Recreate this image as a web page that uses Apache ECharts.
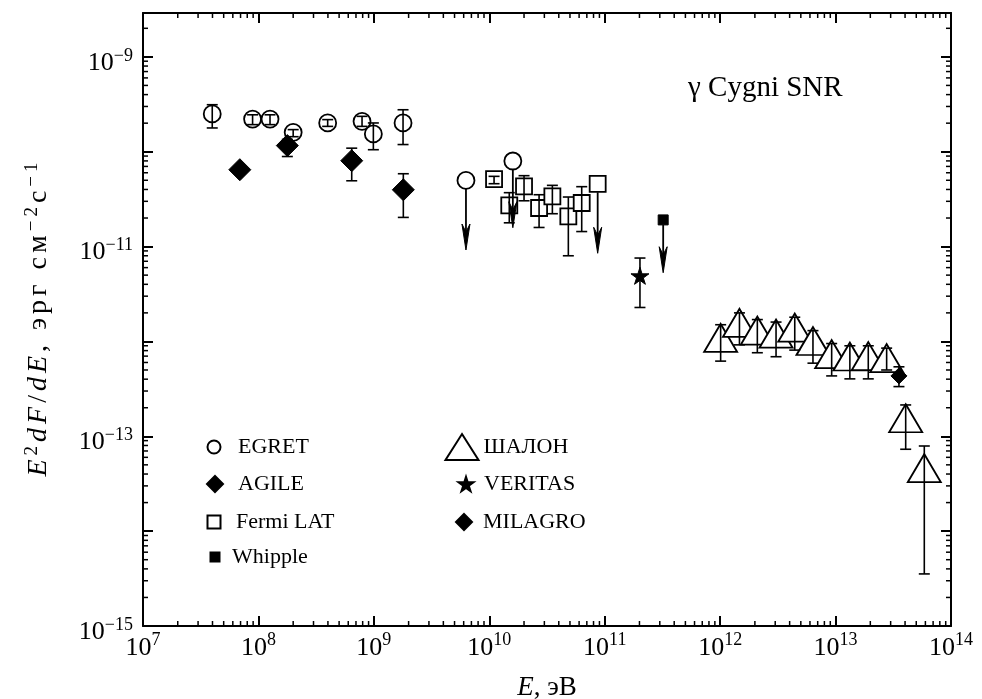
<!DOCTYPE html>
<html><head><meta charset="utf-8">
<script src="https://cdn.jsdelivr.net/npm/echarts@6/dist/echarts.min.js"></script>
<style>html,body{margin:0;padding:0;background:#fff}#c{width:982px;height:699px}</style>
</head><body><div id="c"></div>
<script>
// ---------------- data (E in eV, E^2 dF/dE in erg cm^-2 s^-1) ----------------
const egretE  = [3.98e7, 8.9e7, 1.26e8, 2.0e8, 3.98e8, 7.9e8, 9.9e8, 1.79e9];
const egretF  = [2.50e-10, 2.21e-10, 2.21e-10, 1.60e-10, 2.01e-10, 2.09e-10, 1.54e-10, 2.01e-10];
const egretLo = [1.78e-10, 1.93e-10, 1.93e-10, 1.44e-10, 1.85e-10, 1.85e-10, 1.05e-10, 1.19e-10];
const egretHi = [3.13e-10, 2.45e-10, 2.45e-10, 1.71e-10, 2.18e-10, 2.36e-10, 2.01e-10, 2.77e-10];
const egretUlE   = [6.28e9, 1.6e10];
const egretUlF   = [4.98e-11, 7.98e-11];
const egretUlEnd = [9.2e-12, 1.58e-11];

const agileE  = [6.9e7, 1.78e8, 6.43e8, 1.80e9];
const agileF  = [6.46e-11, 1.16e-10, 8.04e-11, 3.97e-11];
const agileLo = [null, 8.9e-11, 4.94e-11, 2.03e-11];
const agileHi = [null, 1.35e-10, 1.09e-10, 5.86e-11];

const fermiE  = [1.10e10, 1.49e10, 2.0e10, 2.70e10, 3.52e10, 4.84e10, 6.32e10];
const fermiF  = [5.15e-11, 2.72e-11, 4.31e-11, 2.55e-11, 3.38e-11, 2.08e-11, 2.88e-11];
const fermiLo = [4.6e-11, 1.78e-11, 3.04e-11, 1.59e-11, 2.22e-11, 8.0e-12, 1.44e-11];
const fermiHi = [5.5e-11, 3.70e-11, 5.59e-11, 3.52e-11, 4.42e-11, 3.33e-11, 4.28e-11];
const fermiUlE   = [8.69e10];
const fermiUlF   = [4.59e-11];
const fermiUlEnd = [8.5e-12];

const whippleE   = [3.21e11];
const whippleF   = [1.91e-11];
const whippleEnd = [5.3e-12];

const veritasE  = [2.02e11];
const veritasF  = [4.92e-12];
const veritasLo = [2.28e-12];
const veritasHi = [7.57e-12];

const shalonE  = [1.01e12, 1.47e12, 2.10e12, 3.05e12, 4.43e12, 6.37e12, 9.25e12, 1.33e13, 1.92e13, 2.77e13, 4.05e13, 5.87e13];
const shalonF  = [1.09e-12, 1.57e-12, 1.30e-12, 1.21e-12, 1.40e-12, 1.01e-12, 7.36e-13, 6.93e-13, 7.0e-13, 6.67e-13, 1.55e-13, 4.61e-14];
const shalonLo = [6.2e-13, 9.2e-13, 7.6e-13, 6.9e-13, 8.1e-13, 5.9e-13, 4.33e-13, 4.03e-13, 4.03e-13, 5.0e-13, 7.3e-14, 3.54e-15];
const shalonHi = [1.5e-12, 2.0e-12, 1.7e-12, 1.6e-12, 1.8e-12, 1.3e-12, 9.5e-13, 9.0e-13, 9.0e-13, 8.5e-13, 2.14e-13, 7.9e-14];

const milagroE  = [3.54e13];
const milagroF  = [4.33e-13];
const milagroLo = [3.34e-13];
const milagroHi = [5.4e-13];

// axis ranges and tick labels
const xRange = [1e7, 1e14];
const yRange = [1e-15, 2.9e-9];
const xLabelExps = [7, 8, 9, 10, 11, 12, 13, 14];
const yLabelExps = [-15, -13, -11, -9];
const minorMantissas = [2, 3, 4, 5, 6, 7, 8, 9];

// ---------------- build ----------------
const FONT = "'Liberation Serif','Times New Roman',serif";
const L = Math.log10;
const xMin = L(xRange[0]), xMax = L(xRange[1]);
const yMin = L(yRange[0]), yMax = L(yRange[1]);

function pts(E, F) { return E.map((e, i) => [L(e), L(F[i])]); }
function errs(E, lo, hi) {
  const out = [];
  E.forEach((e, i) => { if (lo[i] != null && hi[i] != null) out.push([L(e), L(lo[i]), L(hi[i])]); });
  return out;
}
function uls(E, F, End) { return E.map((e, i) => [L(e), L(F[i]), L(End[i])]); }

function renderErr(params, api) {
  const x = api.value(0);
  const a = api.coord([x, api.value(1)]), b = api.coord([x, api.value(2)]);
  const c = 5.5, st = { stroke: '#000', lineWidth: 1.6 };
  return { type: 'group', children: [
    { type: 'line', shape: { x1: a[0], y1: a[1], x2: b[0], y2: b[1] }, style: st },
    { type: 'line', shape: { x1: a[0] - c, y1: a[1], x2: a[0] + c, y2: a[1] }, style: st },
    { type: 'line', shape: { x1: b[0] - c, y1: b[1], x2: b[0] + c, y2: b[1] }, style: st }
  ]};
}
function makeUlRender(offset) {
  return function (params, api) {
    const x = api.value(0);
    const a = api.coord([x, api.value(1)]), b = api.coord([x, api.value(2)]);
    const st = { stroke: '#000', lineWidth: 1.8 };
    return { type: 'group', children: [
      { type: 'line', shape: { x1: a[0], y1: a[1] + offset, x2: b[0], y2: b[1] - 10 }, style: st },
      { type: 'polygon', shape: { points: [[b[0], b[1]], [b[0] - 4, b[1] - 26], [b[0], b[1] - 18], [b[0] + 4, b[1] - 26]] },
        style: { fill: '#000', stroke: '#000', lineWidth: 1 } }
    ]};
  };
}
function renderXMinor(params, api) {
  const cs = params.coordSys;
  const p = api.coord([api.value(0), yMin]);
  const st = { stroke: '#000', lineWidth: 1.5 };
  return { type: 'group', children: [
    { type: 'line', shape: { x1: p[0], y1: cs.y + cs.height, x2: p[0], y2: cs.y + cs.height - 5 }, style: st },
    { type: 'line', shape: { x1: p[0], y1: cs.y, x2: p[0], y2: cs.y + 5 }, style: st }
  ]};
}
function renderYMinor(params, api) {
  const cs = params.coordSys;
  const p = api.coord([xMin, api.value(1)]);
  const st = { stroke: '#000', lineWidth: 1.5 };
  return { type: 'group', children: [
    { type: 'line', shape: { x1: cs.x, y1: p[1], x2: cs.x + 5, y2: p[1] }, style: st },
    { type: 'line', shape: { x1: cs.x + cs.width, y1: p[1], x2: cs.x + cs.width - 5, y2: p[1] }, style: st }
  ]};
}

const xMinor = [], yMinor = [];
for (let n = Math.round(xMin); n < Math.round(xMax); n++) minorMantissas.forEach(k => xMinor.push([n + L(k)]));
for (let n = Math.round(yMin); n < Math.ceil(yMax); n++) minorMantissas.forEach(k => { const v = n + L(k); if (v < yMax) yMinor.push([xMin, v]); });

const allErr = [].concat(
  errs(egretE, egretLo, egretHi), errs(agileE, agileLo, agileHi), errs(fermiE, fermiLo, fermiHi),
  errs(veritasE, veritasLo, veritasHi), errs(shalonE, shalonLo, shalonHi), errs(milagroE, milagroLo, milagroHi));

const axisLineSt = { show: true, lineStyle: { color: '#000', width: 2 } };
const majorTick = { show: true, inside: true, length: 10, lineStyle: { color: '#000', width: 2 } };

const hollow = { color: '#fff', borderColor: '#000', borderWidth: 1.8, opacity: 1 };
const solid = { color: '#000', borderColor: '#000', borderWidth: 1, opacity: 1 };
const STAR = 'path://M50,0 L61,35 L98,35 L68,57 L79,91 L50,70 L21,91 L32,57 L2,35 L39,35 Z';

function scatter(name, data, symbol, size, style, keep) {
  return { name, type: 'scatter', data, symbol, symbolSize: size, itemStyle: style, z: 2,
    animation: false, silent: true, symbolKeepAspect: keep !== false };
}

const series = [
  scatter('EGRET', pts(egretE, egretF).concat(pts(egretUlE, egretUlF)), 'circle', 17, hollow),
  scatter('Fermi LAT', pts(fermiE, fermiF).concat(pts(fermiUlE, fermiUlF)), 'rect', 16, hollow),
  scatter('ШАЛОН', pts(shalonE, shalonF), 'triangle', [33, 28], hollow, false),
  scatter('AGILE', pts(agileE, agileF), 'diamond', 22, solid),
  scatter('Whipple', pts(whippleE, whippleF), 'rect', 10, solid),
  scatter('VERITAS', pts(veritasE, veritasF), STAR, 18, solid),
  scatter('MILAGRO', pts(milagroE, milagroF), 'diamond', 16, solid),
  { type: 'custom', renderItem: renderErr, data: allErr, encode: { x: 0, y: [1, 2] }, z: 3, silent: true, animation: false },
  { type: 'custom', renderItem: makeUlRender(8.5), data: uls(egretUlE, egretUlF, egretUlEnd).concat(uls(fermiUlE, fermiUlF, fermiUlEnd)), encode: { x: 0, y: [1, 2] }, z: 3, silent: true, animation: false },
  { type: 'custom', renderItem: makeUlRender(5), data: uls(whippleE, whippleF, whippleEnd), encode: { x: 0, y: [1, 2] }, z: 3, silent: true, animation: false },
  { type: 'custom', renderItem: renderXMinor, data: xMinor, encode: { x: 0 }, z: 4, silent: true, animation: false },
  { type: 'custom', renderItem: renderYMinor, data: yMinor, encode: { x: 0, y: 1 }, z: 4, silent: true, animation: false }
];

// legends: one component per entry to place it like the original
const legendSpecs = [
  { name: 'EGRET',     cx: 213, cy: 447, w: 13, h: 13, tx: 237 },
  { name: 'AGILE',     cx: 214, cy: 484, w: 16, h: 16, tx: 237 },
  { name: 'Fermi LAT', cx: 213, cy: 522, w: 13, h: 13, tx: 235 },
  { name: 'Whipple',   cx: 214, cy: 557, w: 9,  h: 9,  tx: 231 },
  { name: 'ШАЛОН',     cx: 461, cy: 446, w: 33, h: 26, tx: 482 },
  { name: 'VERITAS',   cx: 465, cy: 484, w: 15, h: 15, tx: 483 },
  { name: 'MILAGRO',   cx: 463, cy: 522, w: 16, h: 16, tx: 482 }
];
const legends = legendSpecs.map(s => {
  const padL = Math.max(0, s.tx - s.cx - s.w / 2 - 5);
  return {
    data: [s.name], orient: 'vertical', left: s.cx - s.w / 2, top: s.cy - Math.max(s.h, 22) / 2, padding: 0,
    itemWidth: s.w, itemHeight: s.h, symbolKeepAspect: s.w === s.h, selectedMode: false,
    textStyle: { fontFamily: FONT, fontSize: 22, lineHeight: 22, color: '#000', padding: [0, 0, 0, padL] }
  };
});

// y-axis title, drawn char by char with a little spacing as in the original
const yTitleParts = [['E', 'i'], ['2', 'sup'], ['dF', 'i'], ['/', 'n'], ['dE', 'i'], [', эрг см', 'n'], ['\u22122', 'sup'], ['с', 'n'], ['\u22121', 'sup']];
const yTitle = yTitleParts.map(([t, s]) => Array.from(t).map(c => '{' + s + '|' + c + '}').join('')).join('');

const option = {
  backgroundColor: '#fff',
  animation: false,
  grid: { left: 143, right: 31, top: 13, bottom: 73, containLabel: false, outerBoundsMode: 'none' },
  xAxis: [
    { type: 'value', min: xMin, max: xMax, interval: 1, position: 'bottom',
      axisLine: axisLineSt, axisTick: majorTick, splitLine: { show: false },
      axisLabel: { margin: 5, color: '#000', fontFamily: FONT, fontSize: 26,
        formatter: v => xLabelExps.includes(v) ? '{b|10}{sup|' + v + '}' : '',
        rich: { b: { fontFamily: FONT, fontSize: 26, lineHeight: 26, padding: [8, 0, 0, 0], color: '#000' },
                sup: { fontFamily: FONT, fontSize: 18, lineHeight: 18, verticalAlign: 'top', color: '#000' } } },
      name: '{i|E}, эВ', nameLocation: 'middle', nameGap: 48,
      nameTextStyle: { color: '#000', fontFamily: FONT, fontSize: 27, rich: { i: { fontStyle: 'italic', fontFamily: FONT, fontSize: 27, color: '#000' } } } },
    { type: 'value', min: xMin, max: xMax, interval: 1, position: 'top',
      axisLine: axisLineSt, axisTick: majorTick, axisLabel: { show: false }, splitLine: { show: false } }
  ],
  yAxis: [
    { type: 'value', min: yMin, max: yMax, interval: 1, position: 'left',
      axisLine: axisLineSt, axisTick: majorTick, splitLine: { show: false },
      axisLabel: { margin: 10, showMaxLabel: false, color: '#000', fontFamily: FONT, fontSize: 26,
        formatter: v => yLabelExps.includes(v) ? '{b|10}{sup|\u2212' + (-v) + '}' : '',
        rich: { b: { fontFamily: FONT, fontSize: 26, lineHeight: 26, padding: [12, 0, 0, 0], color: '#000' },
                sup: { fontFamily: FONT, fontSize: 18, lineHeight: 18, padding: [3, 0, 0, 0], verticalAlign: 'top', color: '#000' } } },
      name: yTitle, nameLocation: 'middle', nameRotate: 90, nameGap: 88,
      nameTextStyle: { color: '#000', fontFamily: FONT, fontSize: 28, rich: {
        i: { fontStyle: 'italic', fontFamily: FONT, fontSize: 28, lineHeight: 32, padding: [0, 2, 0, 2], color: '#000' },
        n: { fontFamily: FONT, fontSize: 28, lineHeight: 32, padding: [0, 2, 0, 2], color: '#000' },
        sup: { fontFamily: FONT, fontSize: 19, lineHeight: 19, padding: [0, 2, 0, 2], verticalAlign: 'top', color: '#000' } } } },
    { type: 'value', min: yMin, max: yMax, interval: 1, position: 'right',
      axisLine: axisLineSt, axisTick: majorTick, axisLabel: { show: false }, splitLine: { show: false } }
  ],
  legend: legends,
  graphic: [
    { type: 'text', left: 688, top: 74, style: { text: 'γ Cygni SNR', fontFamily: FONT, fontSize: 29, fill: '#000' } }
  ],
  series
};

echarts.init(document.getElementById('c'), null, { renderer: 'canvas' }).setOption(option);
</script>
</body></html>
